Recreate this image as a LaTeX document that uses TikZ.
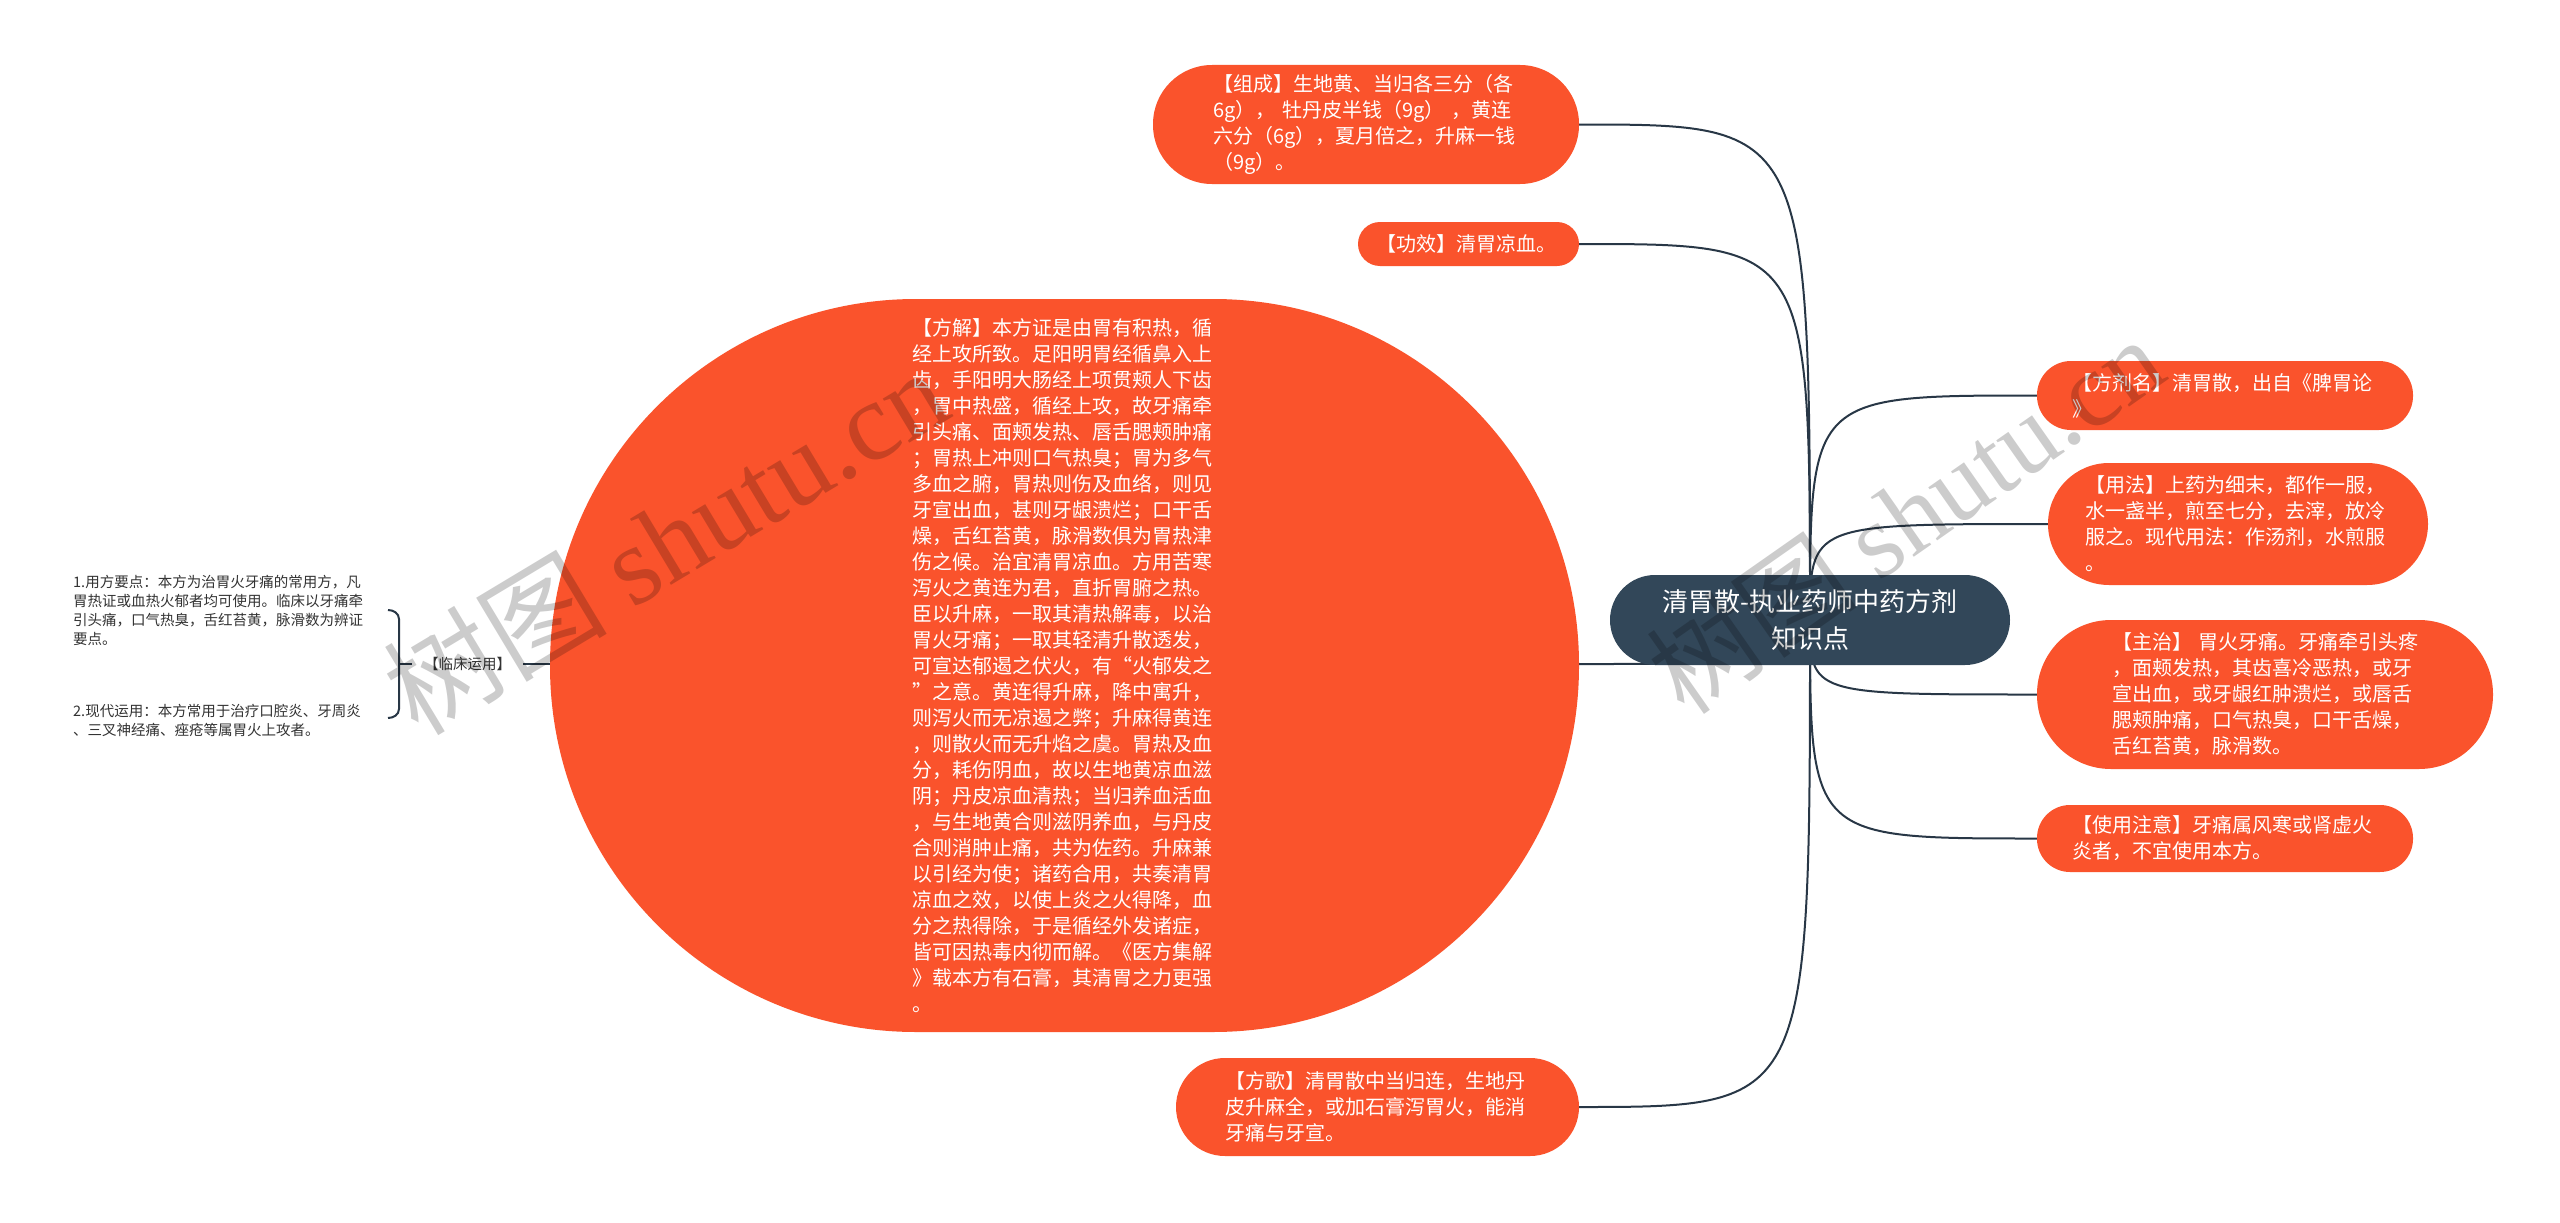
\documentclass[tikz,border=0pt]{standalone}
\usepackage{fontspec}
\newfontfamily\cjk{Noto Sans CJK SC}
\newfontfamily\wmserif{Liberation Serif}
\usetikzlibrary{backgrounds}
\definecolor{nodeor}{RGB}{250,83,44}
\definecolor{rootbg}{RGB}{50,71,89}
\definecolor{linec}{RGB}{40,55,70}
\definecolor{leaftxt}{RGB}{51,51,51}
\begin{document}
\begin{tikzpicture}[x=1pt,y=-1pt,
  conn/.style={draw=linec, line width=2pt},
  sub/.style={fill=nodeor, text=white, align=left, text width=305pt, inner sep=0pt,
    font=\cjk\fontsize{20pt}{26pt}\selectfont},
  rootnode/.style={fill=rootbg, text=white, align=center, inner sep=0pt,
    font=\cjk\fontsize{26pt}{37pt}\selectfont},
  leaf/.style={text=leaftxt, align=left, text width=312pt, inner sep=0pt,
    font=\cjk\fontsize{14.5pt}{19pt}\selectfont},
  lbl/.style={text=leaftxt, inner xsep=12pt, inner ysep=2pt,
    font=\cjk\fontsize{14.5pt}{16pt}\selectfont},
  wm/.style={text=black, opacity=0.2, inner sep=0pt}]
\useasboundingbox (0,0) rectangle (2560,1223);

% root
\node[rootnode, minimum width=400pt, minimum height=90pt, rounded corners=45pt] (root) at (1810,620)
  {清胃散-执业药师中药方剂\\知识点};

% left children
\node[sub, minimum width=426pt, minimum height=119pt, rounded corners=59pt] (zc) at (1366,124.5)
  {【组成】生地黄、当归各三分（各\\6g）， 牡丹皮半钱（9g） ，黄连\\六分（6g），夏月倍之，升麻一钱\\（9g）。};
\node[sub, text width=185pt, minimum width=221pt, minimum height=44pt, rounded corners=22pt] (gx) at (1468.5,244)
  {【功效】清胃凉血。};
\node[sub, minimum width=1029pt, minimum height=733pt, rounded corners=366pt] (fj) at (1064.5,665.5)
  {【方解】本方证是由胃有积热，循\\
经上攻所致。足阳明胃经循鼻入上\\
齿，手阳明大肠经上项贯颊人下齿\\
，胃中热盛，循经上攻，故牙痛牵\\
引头痛、面颊发热、唇舌腮颊肿痛\\
；胃热上冲则口气热臭；胃为多气\\
多血之腑，胃热则伤及血络，则见\\
牙宣出血，甚则牙龈溃烂；口干舌\\
燥，舌红苔黄，脉滑数俱为胃热津\\
伤之候。治宜清胃凉血。方用苦寒\\
泻火之黄连为君，直折胃腑之热。\\
臣以升麻，一取其清热解毒，以治\\
胃火牙痛；一取其轻清升散透发，\\
可宣达郁遏之伏火，有“火郁发之\\
”之意。黄连得升麻，降中寓升，\\
则泻火而无凉遏之弊；升麻得黄连\\
，则散火而无升焰之虞。胃热及血\\
分，耗伤阴血，故以生地黄凉血滋\\
阴；丹皮凉血清热；当归养血活血\\
，与生地黄合则滋阴养血，与丹皮\\
合则消肿止痛，共为佐药。升麻兼\\
以引经为使；诸药合用，共奏清胃\\
凉血之效，以使上炎之火得降，血\\
分之热得除，于是循经外发诸症，\\
皆可因热毒内彻而解。《医方集解\\
》载本方有石膏，其清胃之力更强\\
。};
\node[sub, minimum width=403pt, minimum height=98pt, rounded corners=49pt] (fg) at (1377.5,1107)
  {【方歌】清胃散中当归连，生地丹\\皮升麻全，或加石膏泻胃火，能消\\牙痛与牙宣。};

% right children
\node[sub, minimum width=376pt, minimum height=69pt, rounded corners=34pt] (fjm) at (2225,395.5)
  {【方剂名】清胃散，出自《脾胃论\\》};
\node[sub, minimum width=380pt, minimum height=122pt, rounded corners=61pt] (yf) at (2238,524)
  {【用法】上药为细末，都作一服，\\水一盏半，煎至七分，去滓，放冷\\服之。现代用法：作汤剂，水煎服\\。};
\node[sub, minimum width=456pt, minimum height=149pt, rounded corners=74pt] (zz) at (2265,694.5)
  {【主治】\kern6pt 胃火牙痛。牙痛牵引头疼\\，面颊发热，其齿喜冷恶热，或牙\\宣出血，或牙龈红肿溃烂，或唇舌\\腮颊肿痛，口气热臭，口干舌燥，\\舌红苔黄，脉滑数。};
\node[sub, minimum width=376pt, minimum height=67pt, rounded corners=33pt] (syzy) at (2225,838.5)
  {【使用注意】牙痛属风寒或肾虚火\\炎者，不宜使用本方。};

% clinical use branch
\node[lbl] (lc) at (467.5,664) {【临床运用】};
\node[leaf, anchor=west] (yd) at (73,610)
  {1.用方要点：本方为治胃火牙痛的常用方，凡\\胃热证或血热火郁者均可使用。临床以牙痛牵\\引头痛，口气热臭，舌红苔黄，脉滑数为辨证\\要点。};
\node[leaf, anchor=west] (xd) at (73,720)
  {2.现代运用：本方常用于治疗口腔炎、牙周炎\\、三叉神经痛、痤疮等属胃火上攻者。};
\coordinate (bt) at (399,610);
\coordinate (bb) at (399,718);
\coordinate (bm) at (399,664);

\begin{scope}[on background layer]
  \fill[white] (0,0) rectangle (2560,1223);
  \draw[conn] (root.center) .. controls (root.center |- zc.east) .. (zc.east);
  \draw[conn] (root.center) .. controls (root.center |- gx.east) .. (gx.east);
  \draw[conn] (root.center) .. controls (root.center |- lc.east) .. (lc.east -| fj.east);
  \draw[conn] (root.center) .. controls (root.center |- fg.east) .. (fg.east);
  \draw[conn] (root.center) .. controls (root.center |- fjm.west) .. (fjm.west);
  \draw[conn] (root.center) .. controls (root.center |- yf.west) .. (yf.west);
  \draw[conn] (root.center) .. controls (root.center |- zz.west) .. (zz.west);
  \draw[conn] (root.center) .. controls (root.center |- syzy.west) .. (syzy.west);
\end{scope}

\draw[conn] (lc.east) -- (lc.east -| fj.west);
\draw[conn] (bm) -- (lc.west);
\draw[conn] ([xshift=-11pt]bt) to[out=0,in=90] ([yshift=-9pt]bt) -- ([yshift=9pt]bb) to[out=-90,in=0] ([xshift=-11pt]bb);

% watermarks
\node[wm, rotate=31] (wm1) at (665,540) {\cjk\fontsize{112pt}{112pt}\selectfont 树图 {\wmserif shutu.cn}};
\node[wm, rotate=35] (wm2) at (1905,515) {\cjk\fontsize{106pt}{106pt}\selectfont 树图 {\wmserif shutu.cn}};
\end{tikzpicture}
\end{document}
